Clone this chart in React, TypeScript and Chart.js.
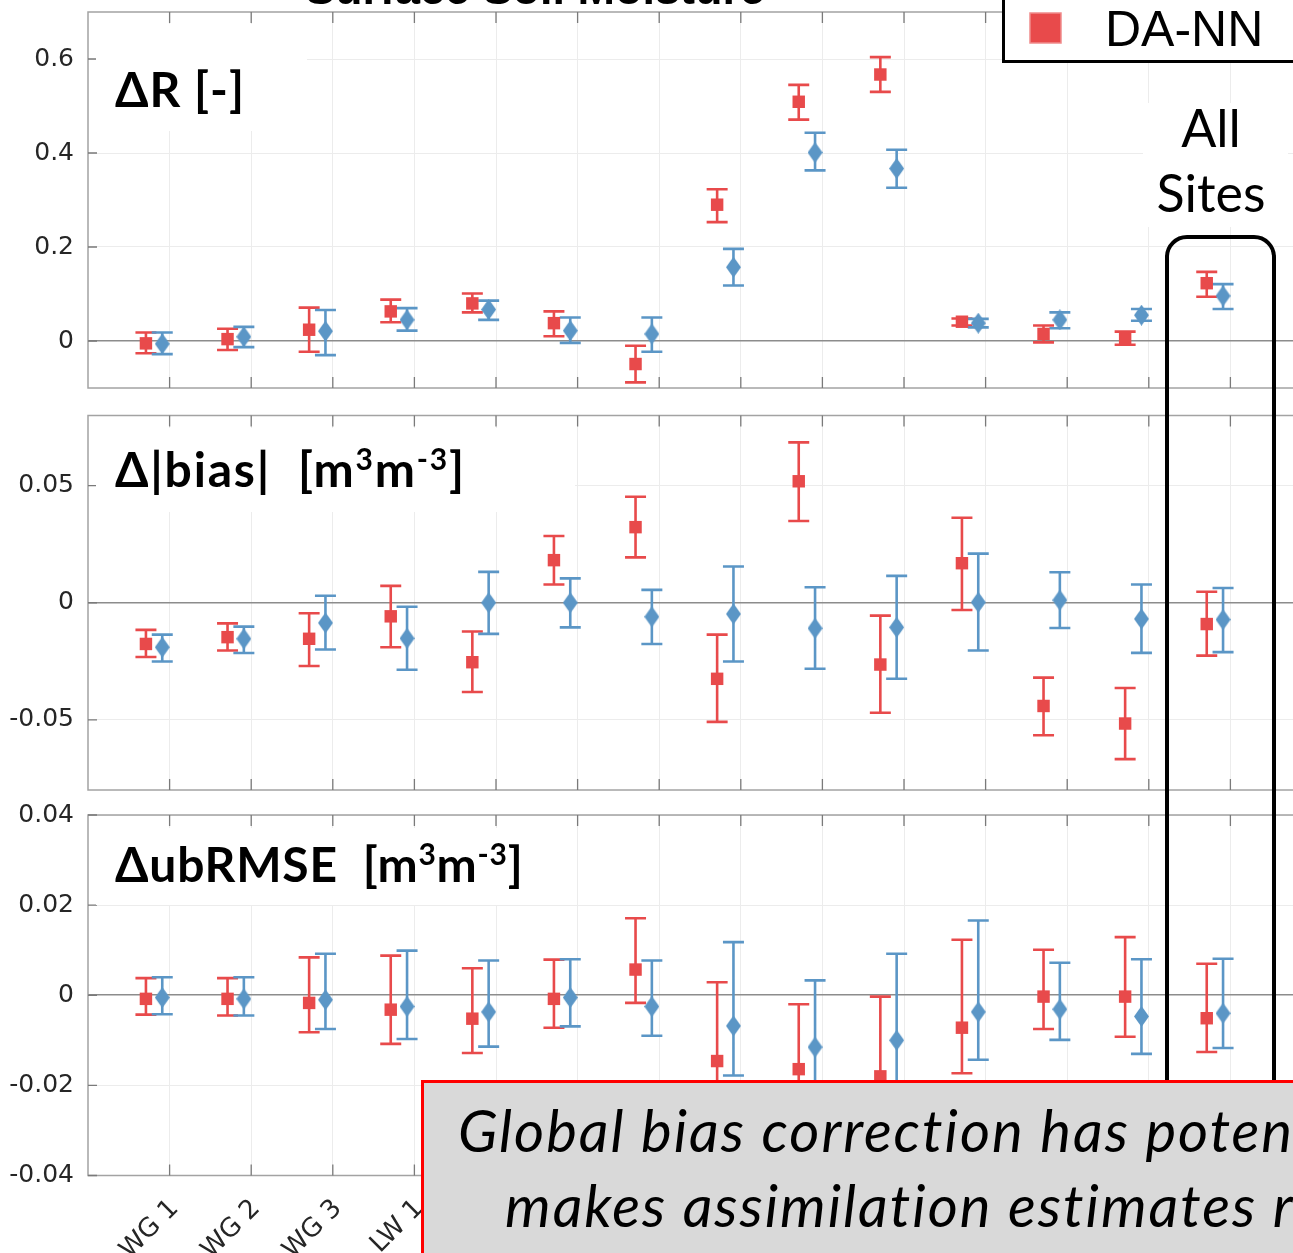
import React, { useEffect, useRef } from 'react';
import { Chart, registerables } from 'chart.js';

Chart.register(...registerables);

// ---------- categories ----------
const SITES = ['WG 1', 'WG 2', 'WG 3', 'LW 1', 'LW 2', 'LW 3', 'LR 1', 'LR 2', 'LR 3', 'LR 4', 'LR 5', 'LR 6', 'LR 7', 'All Sites'];

// ---------- ΔR [-] ----------
const R_NN = [-0.005, 0.004, 0.024, 0.063, 0.080, 0.038, -0.049, 0.290, 0.509, 0.567, 0.041, 0.015, 0.006, 0.123];
const R_NN_LO = [-0.026, -0.019, -0.023, 0.040, 0.061, 0.010, -0.088, 0.253, 0.471, 0.530, 0.033, -0.003, -0.008, 0.094];
const R_NN_HI = [0.018, 0.026, 0.071, 0.088, 0.101, 0.063, -0.010, 0.323, 0.545, 0.604, 0.048, 0.033, 0.020, 0.147];
const R_BC = [-0.006, 0.009, 0.021, 0.045, 0.067, 0.022, 0.015, 0.157, 0.401, 0.367, 0.038, 0.045, 0.055, 0.096];
const R_BC_LO = [-0.028, -0.013, -0.030, 0.022, 0.045, -0.004, -0.023, 0.118, 0.363, 0.326, 0.029, 0.027, 0.043, 0.068];
const R_BC_HI = [0.018, 0.030, 0.066, 0.070, 0.086, 0.050, 0.050, 0.196, 0.443, 0.407, 0.047, 0.061, 0.068, 0.121];
const R_TICKS = [0, 0.2, 0.4, 0.6];
const R_TICK_LABELS = ['0', '0.2', '0.4', '0.6'];

// ---------- Δ|bias| [m3m-3] ----------
const B_NN = [-0.0176, -0.0147, -0.0154, -0.0058, -0.0254, 0.0182, 0.0323, -0.0325, 0.0519, -0.0264, 0.0169, -0.0441, -0.0516, -0.0091];
const B_NN_LO = [-0.0232, -0.0204, -0.027, -0.019, -0.0381, 0.0078, 0.0194, -0.0509, 0.0349, -0.047, -0.0031, -0.0566, -0.0668, -0.0226];
const B_NN_HI = [-0.0116, -0.0088, -0.0045, 0.0072, -0.0123, 0.0285, 0.0453, -0.0136, 0.0685, -0.0055, 0.0363, -0.032, -0.0364, 0.0047];
const B_BC = [-0.019, -0.0154, -0.0086, -0.0152, 0, 0, -0.006, -0.0048, -0.0109, -0.0105, 0.0002, 0.0011, -0.0069, -0.0072];
const B_BC_LO = [-0.0251, -0.0215, -0.02, -0.0286, -0.0133, -0.0105, -0.0176, -0.0251, -0.0282, -0.0325, -0.0204, -0.0108, -0.0214, -0.0211];
const B_BC_HI = [-0.0136, -0.0102, 0.003, -0.0017, 0.0132, 0.0104, 0.0055, 0.0155, 0.0066, 0.0115, 0.021, 0.013, 0.0078, 0.0063];
const B_TICKS = [-0.05, 0, 0.05];
const B_TICK_LABELS = ['-0.05', '0', '0.05'];

// ---------- ΔubRMSE [m3m-3] ----------
const U_NN = [-0.0008, -0.0008, -0.0017, -0.0032, -0.0052, -0.0008, 0.0057, -0.0146, -0.0164, -0.018, -0.0072, -0.0003, -0.0003, -0.0051];
const U_NN_LO = [-0.0043, -0.0045, -0.0082, -0.0108, -0.0128, -0.0072, -0.0017, -0.0321, -0.0308, -0.0357, -0.0173, -0.0075, -0.0092, -0.0126];
const U_NN_HI = [0.0038, 0.0038, 0.0084, 0.0088, 0.006, 0.0079, 0.0171, 0.0029, -0.002, -0.0003, 0.0123, 0.0101, 0.0129, 0.007];
const U_BC = [-0.0005, -0.0008, -0.001, -0.0025, -0.0037, -0.0005, -0.0025, -0.0068, -0.0115, -0.01, -0.0037, -0.0031, -0.0047, -0.004];
const U_BC_LO = [-0.0042, -0.0045, -0.0075, -0.0097, -0.0114, -0.0069, -0.009, -0.0178, -0.0263, -0.029, -0.0143, -0.0099, -0.013, -0.0117];
const U_BC_HI = [0.004, 0.004, 0.0092, 0.0099, 0.0077, 0.008, 0.0077, 0.0118, 0.0033, 0.0092, 0.0166, 0.0072, 0.008, 0.0081];
const U_TICKS = [-0.04, -0.02, 0, 0.02, 0.04];
const U_TICK_LABELS = ['-0.04', '-0.02', '0', '0.02', '0.04'];

// ---------- styles ----------
const RED = '#e84a4b';
const BLUE = '#5b96c6';
const NN_OFFSET = -0.29;
const BC_OFFSET = -0.09;
const TICK_FONT = { family: '"DejaVu Sans", "Liberation Sans", sans-serif', size: 25 };
const XTICK_FONT = { family: '"DejaVu Sans", "Liberation Sans", sans-serif', size: 26 };
const CANVAS_W = 1340;

function makeDiamond(w: number, h: number, color: string) {
  const c = document.createElement('canvas');
  c.width = w;
  c.height = h;
  const g = c.getContext('2d')!;
  g.fillStyle = color;
  g.beginPath();
  g.moveTo(w / 2, 0);
  g.lineTo(w, h / 2);
  g.lineTo(w / 2, h);
  g.lineTo(0, h / 2);
  g.closePath();
  g.fill();
  return c;
}

const framePlugin = {
  id: 'frame',
  beforeDatasetsDraw(chart: any) {
    const { ctx, chartArea: a, scales } = chart;
    const x = scales.x;
    const y = scales.y;
    ctx.save();
    ctx.strokeStyle = '#a3a3a3';
    ctx.lineWidth = 1.5;
    ctx.strokeRect(a.left, a.top, a.right - a.left, a.bottom - a.top);
    ctx.strokeStyle = '#7a7a7a';
    ctx.lineWidth = 1.3;
    ctx.beginPath();
    x.ticks.forEach((t: any) => {
      const px = x.getPixelForValue(t.value);
      ctx.moveTo(px, a.top);
      ctx.lineTo(px, a.top + 11);
      ctx.moveTo(px, a.bottom);
      ctx.lineTo(px, a.bottom - 11);
    });
    y.ticks.forEach((t: any) => {
      const py = y.getPixelForValue(t.value);
      ctx.moveTo(a.left, py);
      ctx.lineTo(a.left + 9, py);
    });
    ctx.stroke();
    ctx.restore();
  },
};

const errorBarPlugin = {
  id: 'errorBars',
  beforeDatasetsDraw(chart: any) {
    const { ctx, scales } = chart;
    const y = scales.y;
    chart.data.datasets.forEach((ds: any, di: number) => {
      const meta = chart.getDatasetMeta(di);
      ctx.save();
      ctx.strokeStyle = ds.barColor;
      ctx.lineWidth = 2.6;
      ctx.beginPath();
      meta.data.forEach((pt: any, i: number) => {
        const px = pt.x;
        const yl = y.getPixelForValue(ds.errLo[i]);
        const yh = y.getPixelForValue(ds.errHi[i]);
        ctx.moveTo(px, yl);
        ctx.lineTo(px, yh);
        ctx.moveTo(px - 10.5, yl);
        ctx.lineTo(px + 10.5, yl);
        ctx.moveTo(px - 10.5, yh);
        ctx.lineTo(px + 10.5, yh);
      });
      ctx.stroke();
      ctx.restore();
    });
  },
};

type Panel = {
  height: number;
  padTop: number;
  padBottom: number;
  xHeight: number;
  yMin: number;
  yMax: number;
  ticks: number[];
  labels: string[];
  nn: number[][];
  bc: number[][];
  showX: boolean;
};

const PANELS: Panel[] = [
  { height: 400, padTop: 12, padBottom: 12, xHeight: 0, yMin: -0.1, yMax: 0.7, ticks: R_TICKS, labels: R_TICK_LABELS, nn: [R_NN, R_NN_LO, R_NN_HI], bc: [R_BC, R_BC_LO, R_BC_HI], showX: false },
  { height: 400, padTop: 15.5, padBottom: 7.5, xHeight: 0, yMin: -0.08, yMax: 0.08, ticks: B_TICKS, labels: B_TICK_LABELS, nn: [B_NN, B_NN_LO, B_NN_HI], bc: [B_BC, B_BC_LO, B_BC_HI], showX: false },
  { height: 470, padTop: 15, padBottom: 0, xHeight: 94.5, yMin: -0.04, yMax: 0.04, ticks: U_TICKS, labels: U_TICK_LABELS, nn: [U_NN, U_NN_LO, U_NN_HI], bc: [U_BC, U_BC_LO, U_BC_HI], showX: true },
];
const PANEL_TOPS = [0, 400, 800];

function buildChart(canvas: HTMLCanvasElement, p: Panel, diamond: HTMLCanvasElement) {
  const positions = SITES.map((_, i) => i + 1);
  return new Chart(canvas, {
    type: 'scatter',
    data: {
      datasets: [
        {
          label: 'DA-NN',
          data: p.nn[0].map((v, i) => ({ x: positions[i] + NN_OFFSET, y: v })),
          errLo: p.nn[1],
          errHi: p.nn[2],
          barColor: RED,
          pointStyle: 'rect',
          pointRadius: 8.8,
          pointHoverRadius: 8.8,
          backgroundColor: RED,
          borderColor: RED,
          borderWidth: 0,
          clip: false,
        } as any,
        {
          label: 'DA-BC',
          data: p.bc[0].map((v, i) => ({ x: positions[i] + BC_OFFSET, y: v })),
          errLo: p.bc[1],
          errHi: p.bc[2],
          barColor: BLUE,
          pointStyle: diamond,
          pointRadius: 10,
          backgroundColor: BLUE,
          borderColor: BLUE,
          borderWidth: 0,
          clip: false,
        } as any,
      ],
    },
    options: {
      responsive: false,
      animation: false,
      devicePixelRatio: 1,
      layout: { padding: { top: p.padTop, bottom: p.padBottom, left: 0, right: CANVAS_W - 1312 } },
      plugins: { legend: { display: false }, tooltip: { enabled: false } },
      scales: {
        x: {
          type: 'linear',
          min: 0,
          max: SITES.length + 1,
          afterBuildTicks: (s: any) => {
            s.ticks = positions.map((v) => ({ value: v }));
          },
          afterFit: (s: any) => {
            s.height = p.xHeight;
            s.paddingLeft = 0;
            s.paddingRight = 0;
            s.paddingTop = 0;
            s.paddingBottom = 0;
          },
          border: { display: false },
          grid: { color: '#ececec', lineWidth: 1, drawTicks: false },
          ticks: {
            display: p.showX,
            autoSkip: false,
            minRotation: 45,
            maxRotation: 45,
            padding: 18,
            labelOffset: 5,
            color: '#262626',
            font: XTICK_FONT,
            callback: (v: any) => SITES[Math.round(v) - 1] ?? '',
          },
        },
        y: {
          min: p.yMin,
          max: p.yMax,
          afterBuildTicks: (s: any) => {
            s.ticks = p.ticks.map((v) => ({ value: v }));
          },
          afterFit: (s: any) => {
            s.width = 88;
            s.paddingTop = 0;
            s.paddingBottom = 0;
            s.paddingLeft = 0;
            s.paddingRight = 0;
          },
          border: { display: false },
          grid: {
            drawTicks: false,
            color: (c: any) => (c.tick && Math.abs(c.tick.value) < 1e-9 ? '#8c8c8c' : '#ececec'),
            lineWidth: (c: any) => (c.tick && Math.abs(c.tick.value) < 1e-9 ? 1.6 : 1),
          },
          ticks: {
            padding: 14,
            color: '#262626',
            font: TICK_FONT,
            callback: (v: any) => {
              const idx = p.ticks.findIndex((t) => Math.abs(t - v) < 1e-9);
              return idx >= 0 ? p.labels[idx] : '';
            },
          },
        },
      },
    },
    plugins: [framePlugin, errorBarPlugin],
  } as any);
}

const CAL = 'Lato, "Open Sans", "Noto Sans", sans-serif';

export default function App() {
  const r1 = useRef<HTMLCanvasElement>(null);
  const r2 = useRef<HTMLCanvasElement>(null);
  const r3 = useRef<HTMLCanvasElement>(null);

  useEffect(() => {
    const diamond = makeDiamond(15, 21, BLUE);
    const refs = [r1, r2, r3];
    const charts = refs.map((r, i) => buildChart(r.current!, PANELS[i], diamond));
    return () => charts.forEach((c) => c.destroy());
  }, []);

  return (
    <div style={{ position: 'absolute', left: 0, top: 0, width: 1293, height: 1253, overflow: 'hidden', background: '#fff' }}>
      <canvas ref={r1} width={CANVAS_W} height={PANELS[0].height} style={{ position: 'absolute', left: 0, top: PANEL_TOPS[0] }} />
      <canvas ref={r2} width={CANVAS_W} height={PANELS[1].height} style={{ position: 'absolute', left: 0, top: PANEL_TOPS[1] }} />
      <canvas ref={r3} width={CANVAS_W} height={PANELS[2].height} style={{ position: 'absolute', left: 0, top: PANEL_TOPS[2] }} />
      <svg width={1293} height={1253} style={{ position: 'absolute', left: 0, top: 0, pointerEvents: 'none' }}>
        {/* title (cut off at top) */}
        <text x={535} y={4} textAnchor="middle" fontFamily='"Liberation Sans", Arial, sans-serif' fontWeight={700} fontSize={45} fill="#000">
          Surface Soil Moisture
        </text>

        {/* legend */}
        <rect x={1003.5} y={-10} width={330} height={71.5} fill="#fff" stroke="#000" strokeWidth={3} />
        <rect x={1030} y={13} width={31} height={30} fill={RED} stroke="#f08c8c" strokeWidth={1.5} />
        <text x={1105} y={46} fontFamily='"Liberation Sans", Arial, sans-serif' fontSize={50} fill="#000">DA-NN</text>

        {/* panel labels */}
        <rect x={96} y={24} width={211} height={107} fill="#fff" />
        <text x={115} y={107} fontFamily={CAL} fontWeight={700} fontSize={48} fill="#000" style={{ whiteSpace: 'pre' }} letterSpacing={1}>ΔR [-]</text>

        <rect x={96} y={428} width={479} height={84} fill="#fff" />
        <text x={115} y={487} fontFamily={CAL} fontWeight={700} fontSize={48} fill="#000" style={{ whiteSpace: 'pre' }} letterSpacing={1.8}>
          Δ|bias|  [m<tspan dy={-17} fontSize={30}>3</tspan><tspan dy={17}>m</tspan><tspan dy={-17} fontSize={30}>-3</tspan><tspan dy={17}>]</tspan>
        </text>

        <rect x={96} y={828} width={450} height={77} fill="#fff" />
        <text x={115} y={882} fontFamily={CAL} fontWeight={700} fontSize={48} fill="#000" style={{ whiteSpace: 'pre' }} letterSpacing={0.8}>
          ΔubRMSE  [m<tspan dy={-17} fontSize={30}>3</tspan><tspan dy={17}>m</tspan><tspan dy={-17} fontSize={30}>-3</tspan><tspan dy={17}>]</tspan>
        </text>

        {/* All Sites */}
        <rect x={1143} y={103} width={145} height={124} fill="#fff" />
        <text x={1211} y={147} textAnchor="middle" fontFamily={CAL} fontSize={52} fill="#000">All</text>
        <text x={1211} y={212} textAnchor="middle" fontFamily={CAL} fontSize={52} fill="#000">Sites</text>
        <rect x={1167} y={237} width={107} height={1000} rx={20} ry={20} fill="none" stroke="#000" strokeWidth={4} />

        {/* message box */}
        <rect x={422.5} y={1081.5} width={1000} height={300} fill="#d9d9d9" stroke="#ff0000" strokeWidth={3} />
        <text x={458} y={1152} fontFamily={CAL} fontStyle="italic" fontSize={58} letterSpacing={2} fill="#000">Global bias correction has potential</text>
        <text x={505} y={1227} fontFamily={CAL} fontStyle="italic" fontSize={58} letterSpacing={2} fill="#000">makes assimilation estimates robust</text>
      </svg>
    </div>
  );
}
